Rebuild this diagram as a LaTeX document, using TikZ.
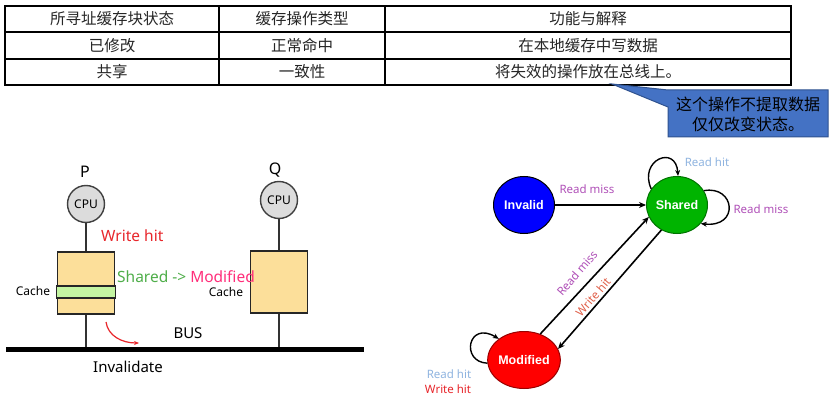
\documentclass[tikz,border=0pt]{standalone}
\usepackage{fontspec}
\setmainfont{Noto Sans}
\newfontfamily\cjk{Noto Sans CJK SC}
\newfontfamily\statefont{Liberation Sans}
\usetikzlibrary{shapes.geometric,arrows.meta}
\definecolor{boxfill}{HTML}{FCDF9A}
\definecolor{bandfill}{HTML}{C4F5A2}
\definecolor{cpufill}{HTML}{DCDCDC}
\definecolor{callblue}{HTML}{4472C4}
\definecolor{calledge}{HTML}{2F528F}
\definecolor{wred}{HTML}{E8262B}
\definecolor{sgreen}{HTML}{4FAE4A}
\definecolor{mpink}{HTML}{FF2E7A}
\definecolor{rmiss}{HTML}{B050B8}
\definecolor{rhit}{HTML}{8FB4E0}
\definecolor{whit}{HTML}{E0604A}
\definecolor{invblue}{HTML}{0000FF}
\definecolor{shgreen}{HTML}{00B400}
\definecolor{modred}{HTML}{FF0000}
\definecolor{tabtext}{HTML}{262626}
\begin{document}
\begin{tikzpicture}[x=1pt,y=-1pt,
  tcell/.style={font=\cjk\fontsize{15.5pt}{18pt}\selectfont, text=tabtext, inner sep=0pt, anchor=center},
  cpunode/.style={circle, draw=black!75, line width=1.4pt, fill=cpufill, minimum size=37pt, inner sep=0pt, font=\fontsize{12pt}{14pt}\selectfont},
  cachebox/.style={draw=black!85, line width=1.6pt, fill=boxfill, minimum width=57pt, minimum height=62pt, inner sep=0pt},
  wire/.style={draw=black!80, line width=1.4pt},
  statenode/.style={ellipse, draw, line width=1pt, minimum width=61pt, minimum height=57pt, inner sep=0pt, text=white, font=\statefont\bfseries\fontsize{12.5pt}{15pt}\selectfont},
  sarrow/.style={line width=1.6pt, -{Stealth[length=7pt,width=6pt]}},
  lbl/.style={font=\fontsize{11.5pt}{13pt}\selectfont, inner sep=0pt},
  big/.style={font=\fontsize{15.5pt}{18pt}\selectfont, inner sep=0pt}
]
\useasboundingbox (0,0) rectangle (830,401);
\fill[white] (0,0) rectangle (830,401);

% ---------- table ----------
\draw[line width=1.2pt] (5,6) rectangle (791,85);
\draw[line width=1.2pt] (5,32) -- (791,32) (5,59) -- (791,59);
\draw[line width=1.2pt] (219,6) -- (219,85) (385,6) -- (385,85);
\node[tcell] (h1) at (112,19) {所寻址缓存块状态};
\node[tcell] (h2) at (302,19) {缓存操作类型};
\node[tcell] (h3) at (588,19) {功能与解释};
\node[tcell] (a1) at (112,45.5) {已修改};
\node[tcell] (a2) at (302,45.5) {正常命中};
\node[tcell] (a3) at (588,45.5) {在本地缓存中写数据};
\node[tcell] (b1) at (112,72) {共享};
\node[tcell] (b2) at (302,72) {一致性};
\node[tcell] (b3) at (588,72) {将失效的操作放在总线上。};

% ---------- callout ----------
\filldraw[fill=callblue, draw=calledge, line width=1pt]
  (612,84) -- (668,90) -- (828,90) -- (828,137) -- (668,137) -- (668,107) -- cycle;
\node[font=\cjk\fontsize{16pt}{20pt}\selectfont, text=black, align=center, inner sep=0pt] (callout) at (748,114) {这个操作不提取数据\\仅仅改变状态。};

% ---------- left: bus diagram ----------
\coordinate (busL) at (6,349);
\coordinate (busR) at (364,349);
\node[cpunode] (cpuP) at (86,204) {CPU};
\node[cpunode] (cpuQ) at (279,200) {CPU};
\node[big, font=\fontsize{16pt}{18pt}\selectfont] (pP) at (85,172) {P};
\node[big, font=\fontsize{16pt}{18pt}\selectfont] (pQ) at (275,170) {Q};
\node[cachebox, minimum height=62pt] (cacheP) at (86,283) {};
\node[cachebox, minimum height=62pt] (cacheQ) at (279,282) {};
\filldraw[fill=bandfill, draw=black!85, line width=1.4pt] (cacheP.west |- 0,286) rectangle (cacheP.east |- 0,298);
\coordinate (bP) at (86,349);
\coordinate (bQ) at (279,349);
\draw[wire] (cpuP) -- (cacheP);
\draw[wire] (cacheP) -- (bP);
\draw[wire] (cpuQ) -- (cacheQ);
\draw[wire] (cacheQ) -- (bQ);
\draw[line width=5pt] (busL) -- (busR);
\node[font=\fontsize{12pt}{14pt}\selectfont, inner sep=0pt] (cacheLblP) at (33,291) {Cache};
\node[font=\fontsize{12pt}{14pt}\selectfont, inner sep=0pt] (cacheLblQ) at (226,292) {Cache};
\node[big, text=wred, anchor=west] (wh) at (101,236) {Write hit};
\node[big, anchor=west] (sm) at (117,277) {\textcolor{sgreen}{Shared -> }\textcolor{mpink}{Modified}};
\node[big, font=\fontsize{15pt}{18pt}\selectfont] (bus) at (188,333) {BUS};
\node[big, font=\fontsize{15pt}{18pt}\selectfont] (inv) at (128,367) {Invalidate};
\coordinate (ra1) at (106,322);
\coordinate (ra2) at (139,343);
\draw[wred, line width=1.2pt, -{Stealth[length=5pt,width=4pt]}] (ra1) .. controls (108,336) and (122,343) .. (ra2);

% ---------- right: state diagram ----------
\node[statenode, fill=invblue, draw=black] (Invalid) at (524,205) {Invalid};
\node[statenode, fill=shgreen, draw=green!45!black] (Shared) at (677,205) {Shared};
\node[statenode, fill=modred, draw=red!60!black] (Modified) at (524,360) {Modified};

\draw[sarrow] (Invalid.east) -- (Shared.west);
\draw[sarrow] (Modified.58) -- (Shared.203);
\draw[sarrow] (Shared.238) -- (Modified.18);

% self loops
\draw[line width=1.4pt, -{Stealth[length=6pt,width=5pt]}] (Shared.148) .. controls (638,160) and (676,144) .. (Shared.88);
\draw[line width=1.4pt, -{Stealth[length=6pt,width=5pt]}] (Shared.28) .. controls (735,185) and (740,228) .. (Shared.-38);
\draw[line width=1.4pt, -{Stealth[length=6pt,width=5pt]}] (Modified.185) .. controls (460,362) and (468,320) .. (Modified.140);

\node[lbl, text=rmiss] (l1) at (587,189) {Read miss};
\node[lbl, text=rhit] (l2) at (707,162) {Read hit};
\node[lbl, text=rmiss] (l3) at (761,209) {Read miss};
\node[lbl, text=rmiss, rotate=49] (l4) at (577,273) {Read miss};
\node[lbl, text=whit, rotate=49] (l5) at (593,297) {Write hit};
\node[lbl, text=rhit] (l6) at (449,374) {Read hit};
\node[lbl, text=wred] (l7) at (448,389) {Write hit};
\end{tikzpicture}
\end{document}
